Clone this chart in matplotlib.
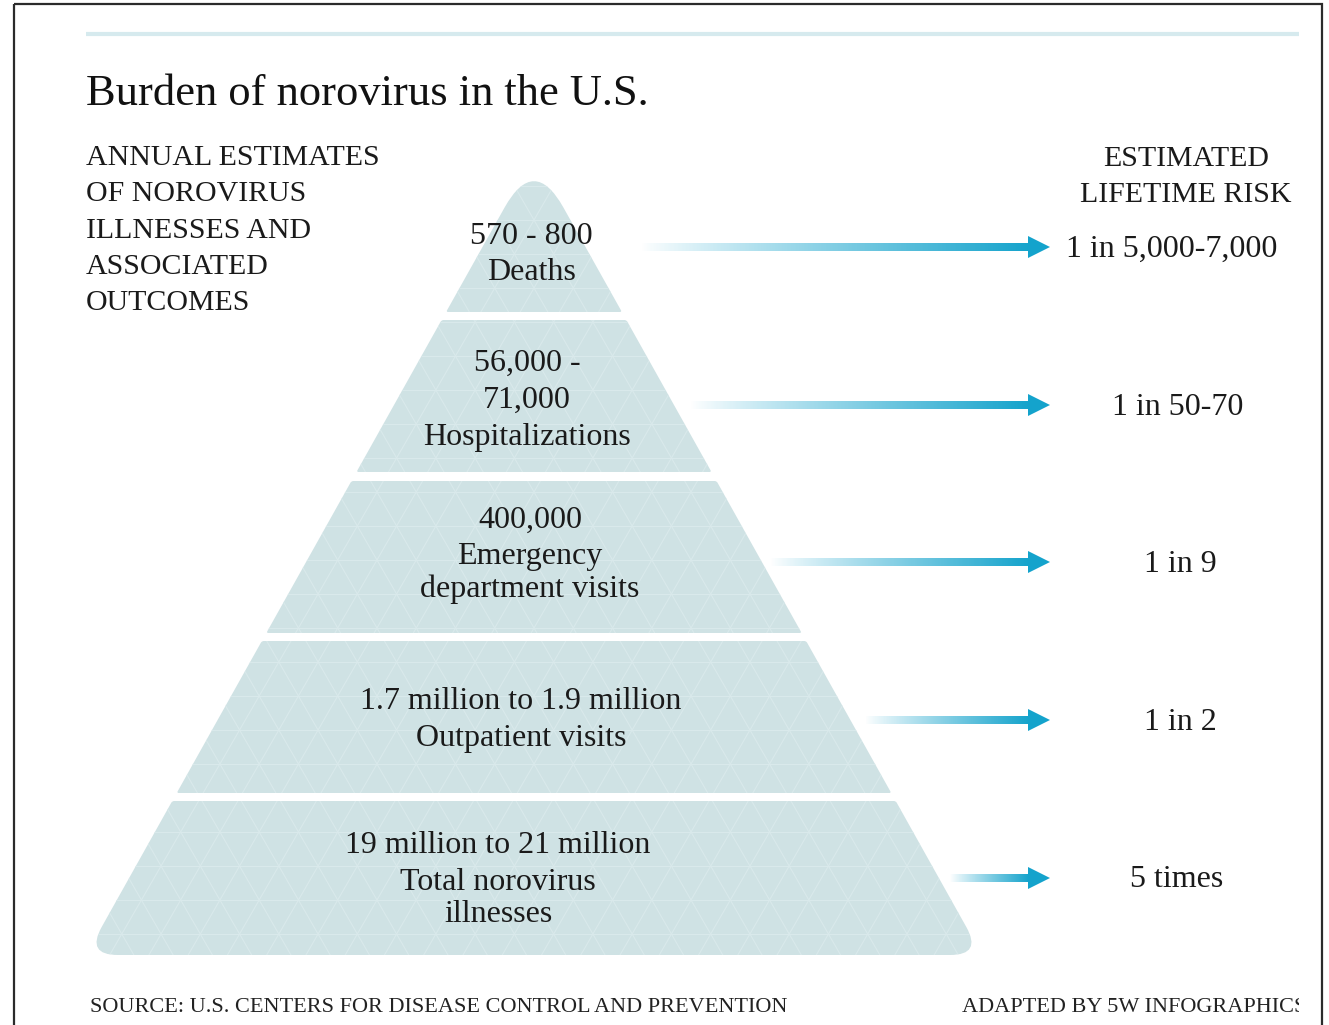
import numpy as np
import matplotlib
matplotlib.use("Agg")
import matplotlib.pyplot as plt
from matplotlib.path import Path
from matplotlib.patches import PathPatch, Rectangle, Polygon
from matplotlib.transforms import Bbox

# Dados do gráfico
titulo = "Burden of norovirus in the U.S."
texto_esquerda = ["ANNUAL ESTIMATES", "OF NOROVIRUS", "ILLNESSES AND", "ASSOCIATED", "OUTCOMES"]
texto_direita = ["ESTIMATED", "LIFETIME RISK"]
contagens = ["570 - 800", "56,000 -\n71,000", "400,000",
             "1.7 million to 1.9 million", "19 million to 21 million"]
desfechos = ["Deaths", "Hospitalizations", "Emergency\ndepartment visits",
             "Outpatient visits", "Total norovirus\nillnesses"]
risco_vida = ["1 in 5,000-7,000", "1 in 50-70", "1 in 9", "1 in 2", "5 times"]
fonte = "SOURCE: U.S. CENTERS FOR DISEASE CONTROL AND PREVENTION"
adaptado = "ADAPTED BY 5W INFOGRAPHICS"

# Layout (pixels)
W, H = 1329, 1025
apice_x, apice_y, inclinacao = 534, 155, 0.56
faixas = [(178, 312), (320, 472), (481, 633), (641, 793), (801, 955)]
linhas_y = [[244, 280], [371, 408, 445], [528, 564, 597], [709, 746], [853, 890, 922]]
linhas_x = [531, 527, 530, 521, 498]
seta_y = [247, 405, 562, 720, 878]
seta_inicio = [640, 690, 770, 865, 950]
risco_y = [257, 415, 572, 730, 887]
risco_x = [1172, 1178, 1180, 1180, 1177]

COR_PIRAMIDE = "#cfe2e4"
COR_PADRAO = "#d9e9eb"
COR_SETA = np.array([0.08, 0.64, 0.80])
FONTE = "Liberation Serif"


def meia_largura(y):
    return inclinacao * (y - apice_y)


def caminho_arredondado(pontos, raios):
    # substitui cada vertice por uma curva quadratica
    n = len(pontos)
    verts, codes = [], []
    for i in range(n):
        p = np.array(pontos[i], float)
        a = np.array(pontos[i - 1], float)
        b = np.array(pontos[(i + 1) % n], float)
        r = raios[i]
        pa = p + (a - p) / np.linalg.norm(a - p) * r
        pb = p + (b - p) / np.linalg.norm(b - p) * r
        verts += [pa, p, pb]
        codes += [Path.MOVETO if i == 0 else Path.LINETO, Path.CURVE3, Path.CURVE3]
    verts.append(verts[0])
    codes.append(Path.CLOSEPOLY)
    return Path(verts, codes)


fig = plt.figure(figsize=(W / 100, H / 100), dpi=100)
ax = fig.add_axes([0, 0, 1, 1])
ax.set_xlim(0, W)
ax.set_ylim(H, 0)
ax.axis("off")

# moldura e linha superior
ax.add_patch(Rectangle((14, 4), 1308, 1040, fill=False, ec="#2b2b2b", lw=1.6, clip_on=False))
ax.plot([86, 1299], [34, 34], color="#d6eaee", lw=3, solid_capstyle="butt")

ax.text(86, 105, titulo, fontsize=32, family=FONTE, color="#111111")
for i, t in enumerate(texto_esquerda):
    ax.text(86, 165 + i * 36.3, t, fontsize=21.5, family=FONTE, color="#1a1a1a")
for i, t in enumerate(texto_direita):
    ax.text(1186, 166 + i * 36, t, fontsize=21.5, family=FONTE, color="#1a1a1a", ha="center")

# padrão triangular
def padrao(patch):
    espaco = 34
    for ang in (0, 60, 120):
        th = np.deg2rad(ang)
        d = np.array([np.cos(th), np.sin(th)])
        nrm = np.array([-d[1], d[0]])
        for k in np.arange(-60, 60):
            c = np.array([534, 560]) + nrm * k * espaco
            p0, p1 = c - d * 1500, c + d * 1500
            ln, = ax.plot([p0[0], p1[0]], [p0[1], p1[1]], color=COR_PADRAO, lw=0.8)
            ln.set_clip_path(patch)

for i, (y0, y1) in enumerate(faixas):
    if i == 0:
        pts = [(apice_x, apice_y), (apice_x + meia_largura(y1), y1), (apice_x - meia_largura(y1), y1)]
        raios = [60, 2, 2]
    else:
        pts = [(apice_x - meia_largura(y0), y0), (apice_x + meia_largura(y0), y0),
               (apice_x + meia_largura(y1), y1), (apice_x - meia_largura(y1), y1)]
        raios = [2, 2, 32, 32] if i == len(faixas) - 1 else [2, 2, 2, 2]
    patch = PathPatch(caminho_arredondado(pts, raios), fc=COR_PIRAMIDE, ec="none")
    ax.add_patch(patch)
    padrao(patch)

    linhas = contagens[i].split("\n") + desfechos[i].split("\n")
    for t, y in zip(linhas, linhas_y[i]):
        ax.text(linhas_x[i], y, t, fontsize=23, family=FONTE, color="#1a1a1a", ha="center")

# setas com gradiente
for i, y in enumerate(seta_y):
    x0, xb, xt = seta_inicio[i], 1029, 1050
    n = 256
    alfa = np.linspace(0, 1, n) ** 0.9
    img = np.zeros((1, n, 4))
    img[0, :, :3] = COR_SETA
    img[0, :, 3] = alfa
    ax.imshow(img, extent=[x0, xb, y + 4, y - 4], aspect="auto", interpolation="bilinear", zorder=3)
    ax.add_patch(Polygon([(xb - 1, y - 11), (xt, y), (xb - 1, y + 11)], closed=True,
                         fc=COR_SETA, ec="none", zorder=3))
    ax.text(risco_x[i], risco_y[i], risco_vida[i], fontsize=23, family=FONTE,
            color="#1a1a1a", ha="center")

ax.set_xlim(0, W)
ax.set_ylim(H, 0)

ax.text(90, 1012, fonte, fontsize=16, family=FONTE, color="#222222")
t = ax.text(962, 1012, adaptado, fontsize=16, family=FONTE, color="#222222", clip_on=True)
t.set_clip_path(None)
t.set_clip_box(Bbox.from_extents(0, 0, 1299, H))

fig.savefig("out.png", dpi=100)
